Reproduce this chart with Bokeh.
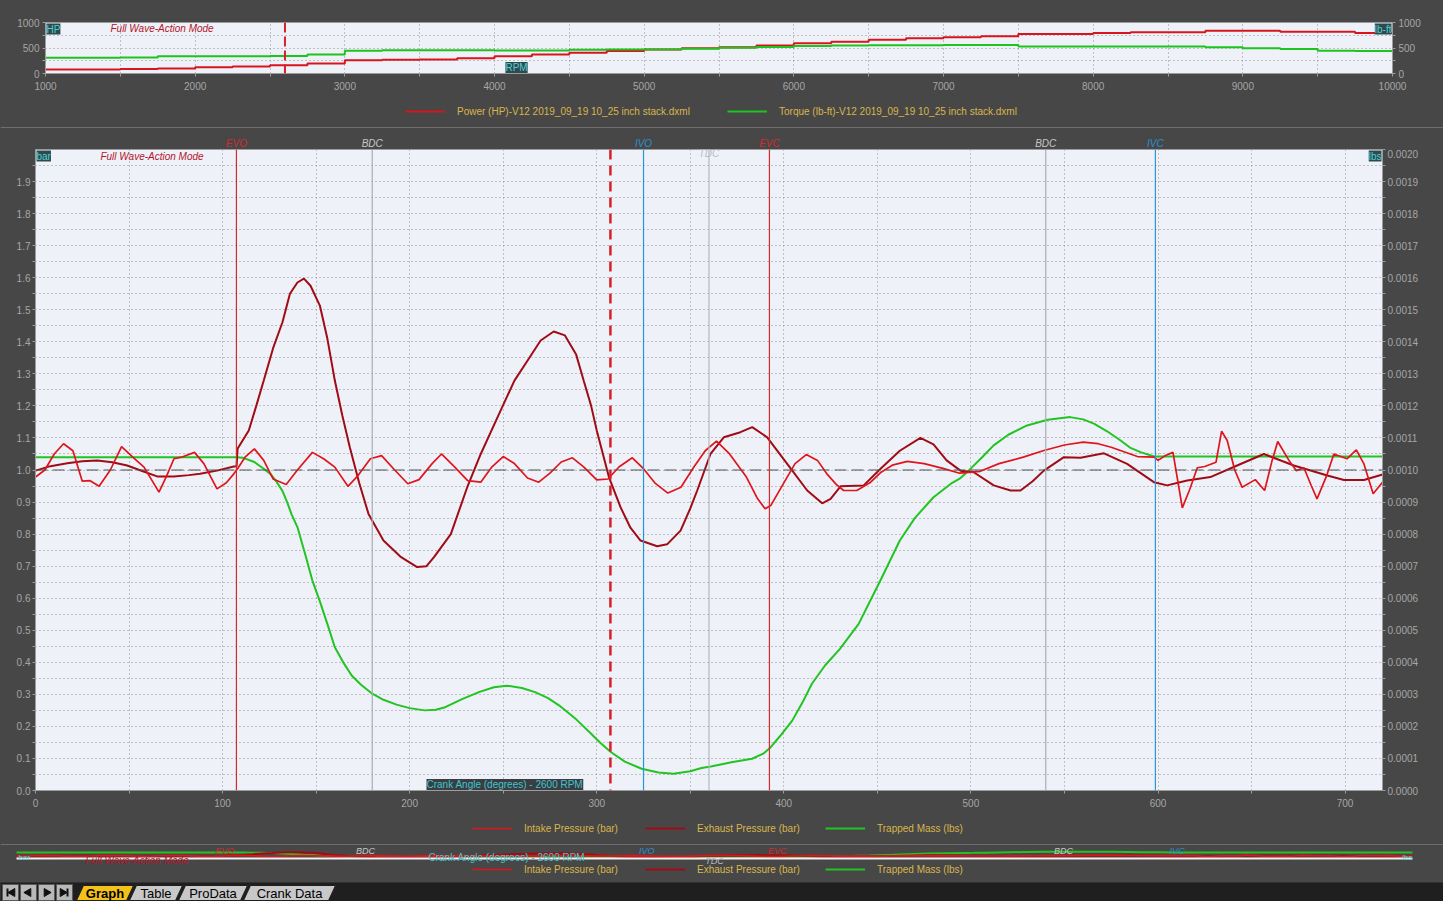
import math
from bokeh.plotting import figure
from bokeh.models import (Range1d, LinearAxis, FixedTicker, PrintfTickFormatter,
                          Span, Label, Legend, LegendItem, BoxAnnotation)
from bokeh.embed import file_html
from bokeh.resources import INLINE

# ------------------------------------------------------------------ data
rpm = list(range(1000, 10001, 250))
power_hp = [80, 80, 90, 100, 125, 135, 160, 195, 260, 270, 275, 300, 340, 375, 407, 440,
            473, 495, 513, 550, 593, 625, 660, 690, 713, 730, 773, 773, 793, 807, 807, 840,
            840, 820, 820, 793, 793]
torque_lbft = [310, 310, 315, 340, 340, 340, 345, 375, 445, 455, 455, 455, 450, 450, 465, 470,
               470, 485, 505, 520, 540, 548, 552, 556, 560, 560, 527, 527, 527, 527, 527, 515,
               493, 480, 445, 440, 440]
cursor_rpm = 2600

crank_intake = [0, 5, 10, 15, 20, 25, 29, 34, 40, 46, 52, 58, 62, 66, 70, 74, 78, 85, 90, 97,
                102, 106, 108, 112, 117, 122, 127, 134, 140, 148, 154, 160, 167, 172, 179, 185,
                192, 199, 205, 212, 217, 224, 231, 238, 244, 250, 256, 263, 269, 275, 281, 287,
                293, 300, 306, 312, 319, 325, 331, 338, 345, 352, 358, 364, 371, 380, 386, 390,
                393, 400, 406, 412, 418, 423, 428, 432, 439, 446, 452, 458, 466, 475, 485, 494,
                505, 515, 528, 539, 550, 560, 568, 575, 589, 598, 600, 604, 608, 613, 617, 621,
                625, 631, 634, 637, 641, 645, 652, 657, 661, 664, 670, 674, 678, 682, 685, 690,
                694, 701, 706, 710, 715, 720]
intake_bar = [0.978, 1.0, 1.05, 1.082, 1.06, 0.965, 0.967, 0.949, 1.0, 1.073, 1.04, 1.009, 0.97,
              0.931, 0.98, 1.035, 1.04, 1.055, 1.02, 0.941, 0.96, 0.988, 1.004, 1.04, 1.066, 1.03,
              0.972, 0.955, 1.0, 1.055, 1.035, 1.009, 0.949, 0.98, 1.035, 1.045, 1.0, 0.957, 0.97,
              1.02, 1.05, 1.01, 0.967, 0.962, 1.01, 1.042, 1.02, 0.975, 0.962, 0.99, 1.025, 1.038,
              1.01, 0.969, 0.972, 1.01, 1.038, 1.004, 0.96, 0.928, 0.946, 1.01, 1.06, 1.09, 1.05,
              0.978, 0.91, 0.879, 0.889, 0.96, 1.02, 1.048, 1.03, 0.988, 0.955, 0.936, 0.936, 0.96,
              0.993, 1.015, 1.027, 1.02, 1.005, 0.99, 0.996, 1.02, 1.04, 1.061, 1.078, 1.087, 1.082,
              1.071, 1.042, 1.04, 1.03, 1.045, 1.055, 0.882, 0.94, 1.007, 1.011, 1.024, 1.121, 1.092,
              1.0, 0.946, 0.97, 0.936, 1.03, 1.089, 1.03, 0.998, 1.007, 0.95, 0.91, 0.98, 1.05,
              1.035, 1.063, 1.02, 0.926, 0.962]

crank_exhaust = [0, 8, 17, 25, 33, 41, 49, 57, 65, 74, 82, 88, 97, 106, 107.5, 108, 114, 118,
                 122, 127, 132, 136, 140, 143.5, 147, 152, 156, 160, 164, 168, 173, 178, 186, 195,
                 204, 209, 213, 222, 231, 238, 247, 256, 264, 270, 277, 283, 289, 293, 297, 300,
                 306.5, 312.7, 318, 323.4, 332.3, 337.6, 344.8, 350, 353.7, 360.8, 367.9, 376.8,
                 383.1, 391.1, 401.8, 412.5, 420.5, 425, 430.3, 442.7, 451.7, 462, 473, 480, 487,
                 494.4, 501.5, 512.2, 521.2, 526.5, 533, 539, 549.7, 558.6, 571.1, 583.5, 597.8,
                 604.9, 615.6, 628, 642.3, 656.6, 672.6, 690.5, 699.4, 710.1, 720]
exhaust_bar = [0.998, 1.012, 1.021, 1.027, 1.03, 1.024, 1.014, 0.997, 0.98, 0.98, 0.984, 0.988,
               0.998, 1.011, 1.012, 1.066, 1.123, 1.2, 1.279, 1.38, 1.461, 1.55, 1.585, 1.597,
               1.575, 1.513, 1.41, 1.279, 1.17, 1.071, 0.96, 0.863, 0.78, 0.73, 0.697, 0.7, 0.728,
               0.8, 0.95, 1.05, 1.165, 1.279, 1.35, 1.404, 1.432, 1.42, 1.36, 1.279, 1.2, 1.123,
               0.978, 0.884, 0.82, 0.78, 0.762, 0.768, 0.811, 0.88, 0.936, 1.05, 1.102, 1.118,
               1.134, 1.102, 1.019, 0.936, 0.896, 0.91, 0.949, 0.952, 1.004, 1.06, 1.1, 1.08, 1.03,
               0.998, 0.993, 0.952, 0.936, 0.936, 0.965, 0.998, 1.04, 1.038, 1.052, 1.019, 0.962,
               0.952, 0.967, 0.978, 1.014, 1.05, 1.014, 0.983, 0.969, 0.969, 0.986]

crank_mass = [0, 100, 107, 111, 117, 122, 126, 129, 132, 134.5, 137, 140, 144, 148, 152, 156, 160,
              165, 169, 174, 180, 186, 193, 200, 208, 214, 219, 228, 237, 245, 252, 260, 267, 274,
              280, 289, 297, 302, 307.5, 315, 324, 333, 341, 350, 356, 361, 372, 383, 389, 393,
              398, 404.5, 410, 415, 422, 430, 440, 452, 462, 470, 480, 490, 494, 500, 506, 512,
              520, 530, 541, 553, 560, 566, 573, 580, 585, 591, 598, 720]
trapped_mass_lbs = [0.00104, 0.00104, 0.00104, 0.001038, 0.001025, 0.001004, 0.000985, 0.000962,
                    0.000935, 0.0009, 0.00086, 0.000822, 0.00074, 0.000655, 0.00059, 0.00052,
                    0.000447, 0.000395, 0.000359, 0.00033, 0.000302, 0.000283, 0.000268, 0.000257,
                    0.00025, 0.000252, 0.00026, 0.000285, 0.000307, 0.000322, 0.000327, 0.00032,
                    0.000307, 0.000288, 0.000265, 0.000222, 0.000177, 0.000148, 0.00012, 0.00009,
                    0.000068, 0.000056, 0.000052, 0.00006, 0.00007, 0.000075, 0.000088, 0.000099,
                    0.000115, 0.000135, 0.00017, 0.000218, 0.000275, 0.000333, 0.00039, 0.000442,
                    0.00052, 0.00066, 0.00078, 0.00085, 0.000915, 0.00096, 0.000973, 0.001005,
                    0.00104, 0.001076, 0.00111, 0.001139, 0.001157, 0.001165, 0.001158, 0.001144,
                    0.00112, 0.001092, 0.00107, 0.001055, 0.001042, 0.001042]

event_names = ["EVO", "BDC", "IVO", "TDC", "EVC", "BDC", "IVC"]
event_angles = [107.4, 180, 325, 360, 392.3, 540, 598.6]
cursor_angle = 307.3

tab_names = ["Graph", "Table", "ProData", "Crank Data"]

# ------------------------------------------------------------------ style
W = 1443
FONT = "Liberation Sans"
BG = "#474747"
PLOT_BG = "#eef2f8"
TICK_TXT = "#a6a6a6"
AX_LINE = "#9c9c9c"
GRID = "#8e8e8e"
SEP = "#6e6e6e"
LEG_TXT = "#d9b64c"
RED = "#e0141c"
DARK_RED = "#a00c16"
GREEN = "#22c322"
BOX_BG = "#2e4a50"
BOX_TXT = "#4fd0d0"
MODE_TXT = "#b4142c"
EVENT_COL = {"EVO": "#d42a2a", "EVC": "#d42a2a", "BDC": "#a8aeb6", "TDC": "#b4b8c0",
             "IVO": "#2a94d8", "IVC": "#2a94d8"}
EVENT_TXT = {"EVO": "#d42a2a", "EVC": "#d42a2a", "BDC": "#c8c8c8", "TDC": "#b8bcc4",
             "IVO": "#2a8fd0", "IVC": "#2a8fd0"}
COMMON = dict(output_backend="svg", toolbar_location=None, title=None)


def style_axis(ax, standoff=3):
    ax.major_label_text_color = TICK_TXT
    ax.major_label_text_font = FONT
    ax.major_label_text_font_size = "10px"
    ax.axis_line_color = AX_LINE
    ax.major_tick_line_color = AX_LINE
    ax.minor_tick_line_color = AX_LINE
    ax.major_tick_in = 0
    ax.major_tick_out = 3
    ax.minor_tick_in = 0
    ax.minor_tick_out = 3
    ax.major_label_standoff = standoff


def band_fig(h, xr, yr, left=0, right=0, bg=BG):
    p = figure(width=W, height=h, x_range=xr, y_range=yr, x_axis_type=None, y_axis_type=None,
               min_border_left=left, min_border_right=right, min_border_top=0,
               min_border_bottom=0, background_fill_color=bg, border_fill_color=bg,
               outline_line_color=None, **COMMON)
    p.grid.visible = False
    return p


def add_legend(p, labels, renderers, xs, y):
    for lab, r, x in zip(labels, renderers, xs):
        p.add_layout(Legend(items=[LegendItem(label=lab, renderers=[r])], location=(x, y),
                            orientation="horizontal", padding=0, margin=0, spacing=0,
                            glyph_width=40, glyph_height=12, label_height=12, label_standoff=12,
                            label_text_color=LEG_TXT, label_text_font=FONT,
                            label_text_font_size="10px", border_line_alpha=0,
                            background_fill_alpha=0))


def text(p, x, y, s, color, size="10px", align="left", baseline="middle", style="normal",
         xo=0, yo=0, bg=None, y_range_name="default"):
    p.add_layout(Label(x=x, y=y, text=s, text_align=align, text_baseline=baseline,
                       x_offset=xo, y_offset=yo, text_color=color, text_font=FONT,
                       text_font_size=size, text_font_style=style, background_fill_color=bg,
                       y_range_name=y_range_name))


# ------------------------------------------------------------------ top panel (RPM)
top = figure(width=W, height=95, x_range=Range1d(1000, 10000), y_range=Range1d(0, 1000),
             min_border_left=45, min_border_right=51, min_border_top=22, min_border_bottom=22,
             background_fill_color=PLOT_BG, border_fill_color=BG, outline_line_color=None,
             **COMMON)
top.extra_y_ranges = {"tq": Range1d(0, 1000)}
top.xaxis.ticker = FixedTicker(ticks=list(range(1000, 10001, 1000)),
                               minor_ticks=list(range(1500, 10000, 1000)))
top.yaxis.ticker = FixedTicker(ticks=[0, 500, 1000], minor_ticks=[250, 750])
top.add_layout(LinearAxis(y_range_name="tq",
                          ticker=FixedTicker(ticks=[0, 500, 1000], minor_ticks=[250, 750])), "right")
for ax in top.axis:
    style_axis(ax)
top.xaxis.major_label_standoff = 5
top.xgrid.ticker = FixedTicker(ticks=list(range(1500, 10000, 500)))
top.ygrid.ticker = FixedTicker(ticks=[250, 500, 750])
top.grid.grid_line_color = GRID
top.grid.grid_line_dash = "1 3"

top.step(rpm, power_hp, mode="after", line_color="#d8141c", line_width=2)
top.step(rpm, torque_lbft, mode="after", line_color="#1ec41e", line_width=2, y_range_name="tq")
top.add_layout(Span(location=cursor_rpm, dimension="height", line_color="#d8202a",
                    line_width=2, line_dash="10 4"))
text(top, 1434, 880, "Full Wave-Action Mode", MODE_TXT, style="italic")
text(top, 1000, 1000, "HP", BOX_TXT, baseline="top", xo=1, yo=-1, bg=BOX_BG)
text(top, 10000, 1000, "lb-ft", BOX_TXT, align="right", baseline="top", xo=-1, yo=-1, bg=BOX_BG)
text(top, 4073, 0, "RPM", BOX_TXT, yo=6, bg=BOX_BG)

# legend row of top panel (series drawn on a range that keeps them out of view; only the
# legend swatches show)
top_leg = band_fig(33, Range1d(1000, 1000 + W * 9000 / 1347), Range1d(0, 33))
top_leg.extra_y_ranges = {"off": Range1d(5000, 6000)}
lp = top_leg.step(rpm, power_hp, mode="after", line_color="#d8141c", line_width=2,
                  y_range_name="off")
lt = top_leg.step(rpm, torque_lbft, mode="after", line_color="#1ec41e", line_width=2,
                  y_range_name="off")
add_legend(top_leg, ["Power (HP)-V12 2019_09_19 10_25 inch stack.dxml",
                     "Torque (lb-ft)-V12 2019_09_19 10_25 inch stack.dxml"], [lp, lt], [405, 727], 11)
top_leg.add_layout(Span(location=1, dimension="width", line_color=SEP, line_width=1))

# ------------------------------------------------------------------ event label row
lab_row = band_fig(21, Range1d(0, 720), Range1d(0, 21), left=35, right=61)
for name, ang in zip(event_names, event_angles):
    if name != "TDC":
        text(lab_row, ang, 6, name, EVENT_TXT[name], align="center", style="italic")

# ------------------------------------------------------------------ main panel (crank angle)
main = figure(width=W, height=663, x_range=Range1d(0, 720), y_range=Range1d(0, 2.0),
              min_border_left=35, min_border_right=61, min_border_top=0, min_border_bottom=22,
              background_fill_color=PLOT_BG, border_fill_color=BG, outline_line_color=None,
              **COMMON)
main.extra_y_ranges = {"mass": Range1d(0, 0.002)}
main.xaxis.ticker = FixedTicker(ticks=list(range(0, 701, 100)), minor_ticks=list(range(50, 720, 100)))
main.yaxis.ticker = FixedTicker(ticks=[i / 10 for i in range(0, 20)],
                                minor_ticks=[i / 20 for i in range(1, 40, 2)])
main.yaxis.formatter = PrintfTickFormatter(format="%.1f")
main.add_layout(LinearAxis(y_range_name="mass",
                           ticker=FixedTicker(ticks=[i / 10000 for i in range(0, 21)],
                                              minor_ticks=[i / 20000 for i in range(1, 40, 2)]),
                           formatter=PrintfTickFormatter(format="%.4f")), "right")
for ax in main.axis:
    style_axis(ax, standoff=2)
main.xaxis.major_label_standoff = 5
main.xgrid.ticker = FixedTicker(ticks=list(range(50, 720, 50)))
main.ygrid.ticker = FixedTicker(ticks=[i / 20 for i in range(1, 40)])
main.grid.grid_line_color = GRID
main.grid.grid_line_dash = "1 3"

main.add_layout(Span(location=1.0, dimension="width", line_color="#505050", line_width=1,
                     line_dash="12 5"))
for name, ang in zip(event_names, event_angles):
    main.add_layout(Span(location=ang, dimension="height", line_color=EVENT_COL[name], line_width=1.2))
text(main, event_angles[event_names.index("TDC")], 2.0, "TDC", EVENT_TXT["TDC"], align="center",
     style="italic", yo=-4)

r_mass = main.line(crank_mass, trapped_mass_lbs, line_color=GREEN, line_width=2, y_range_name="mass")
r_exh = main.line(crank_exhaust, exhaust_bar, line_color=DARK_RED, line_width=2)
r_int = main.line(crank_intake, intake_bar, line_color=RED, line_width=1.7)

main.add_layout(Span(location=cursor_angle, dimension="height", line_color="#d8202a",
                     line_width=2.5, line_dash="10 6"))
text(main, 34.7, 1.978, "Full Wave-Action Mode", MODE_TXT, style="italic")
text(main, 0, 2.0, "bar", BOX_TXT, baseline="top", xo=1, yo=-1, bg=BOX_BG)
text(main, 720, 2.0, "lbs", BOX_TXT, align="right", baseline="top", xo=-1, yo=-1, bg=BOX_BG)
text(main, 209, 0, "Crank Angle (degrees) - 2600 RPM", "#40c4cc", yo=6, bg="#3a3e42")

# legend row of main panel (series kept out of view; only the legend swatches show)
main_leg = band_fig(31, Range1d(0, W), Range1d(0, 31))
main_leg.extra_y_ranges = {"off": Range1d(5000, 6000)}
li = main_leg.line(crank_intake, intake_bar, line_color=RED, line_width=1.7, y_range_name="off")
le = main_leg.line(crank_exhaust, exhaust_bar, line_color=DARK_RED, line_width=2, y_range_name="off")
lm = main_leg.line(crank_mass, trapped_mass_lbs, line_color=GREEN, line_width=2, y_range_name="off")
add_legend(main_leg, ["Intake Pressure (bar)", "Exhaust Pressure (bar)", "Trapped Mass (lbs)"],
           [li, le, lm], [472, 645, 825], 9)

# ------------------------------------------------------------------ compressed strip
PX = 1.9389      # px per degree in the strip
PU = 1.1 / 7     # bar per px in the strip
MU = 0.0012 / 7  # lbs per px in the strip
strip = band_fig(39, Range1d(-16 / PX, (W - 16) / PX), Range1d(0.6 - 24 * PU, 1.7 + 8 * PU))
strip.extra_y_ranges = {"mass": Range1d(-24 * MU, 0.0012 + 8 * MU)}
strip.add_layout(Span(location=1.7 + 7 * PU, dimension="width", line_color=SEP, line_width=1))
strip.add_layout(BoxAnnotation(left=0, right=720, bottom=0.6 - PU, top=0.6 + PU,
                               fill_color="#f2f2f2", fill_alpha=1.0, line_alpha=0))
s_mass = strip.line(crank_mass, trapped_mass_lbs, line_color=GREEN, line_width=2, y_range_name="mass")
s_exh = strip.line(crank_exhaust, exhaust_bar, line_color=DARK_RED, line_width=2)
s_int = strip.line(crank_intake, intake_bar, line_color=RED, line_width=1.7)
for name, ang in zip(event_names, event_angles):
    yy = 0.6 - 2 * PU if name == "TDC" else 1.7 + PU
    text(strip, ang, yy, name, EVENT_TXT[name], size="9px", align="center", style="italic")
text(strip, (85 - 16) / PX, 0.6 - 2 * PU, "Full Wave-Action Mode", MODE_TXT, style="italic")
text(strip, (428 - 16) / PX, 0.6 + PU, "Crank Angle (degrees) - 2600 RPM", "#40c4cc")
text(strip, 0, 0.6 + PU, "bar", BOX_TXT, size="8px", xo=2)
text(strip, 720, 0.6 + PU, "lbs", BOX_TXT, size="8px", align="right")
add_legend(strip, ["Intake Pressure (bar)", "Exhaust Pressure (bar)", "Trapped Mass (lbs)"],
           [s_int, s_exh, s_mass], [472, 645, 825], 7)

# ------------------------------------------------------------------ tab bar
tab_left = [76, 129, 178, 243]
tab_right = [126, 175, 240, 328]
tab_fill = ["#f2c21a", "#c8c8c8", "#c8c8c8", "#c8c8c8"]
nav_left = [2, 20, 38, 56]

tabs = band_fig(19, Range1d(0, W), Range1d(0, 19), bg="#1f1f1f")
tabs.quad(left=nav_left, right=[v + 16 for v in nav_left], bottom=1, top=17,
          fill_color="#b8b8b8", line_color="#5a5a5a")
tabs.scatter([nav_left[0] + 10, nav_left[1] + 8], [9, 9], marker="triangle", size=8,
             angle=math.pi / 2, fill_color="#111111", line_color="#111111")
tabs.scatter([nav_left[2] + 8, nav_left[3] + 6], [9, 9], marker="triangle", size=8,
             angle=-math.pi / 2, fill_color="#111111", line_color="#111111")
tabs.segment(x0=[nav_left[0] + 5, nav_left[3] + 11], y0=[5, 5],
             x1=[nav_left[0] + 5, nav_left[3] + 11], y1=[13, 13], line_color="#111111", line_width=2)
tabs.patches(xs=[[l, l + 7, r + 7, r] for l, r in zip(tab_left, tab_right)],
             ys=[[1, 16, 16, 1] for _ in tab_names], fill_color=tab_fill,
             line_color="#1f1f1f", line_width=1)
for name, l, r in zip(tab_names, tab_left, tab_right):
    text(tabs, (l + r) / 2 + 3.5, 8.5, name, "#000000", size="13px", align="center",
         style="bold" if name == "Graph" else "normal")

roots = [top, top_leg, lab_row, main, main_leg, strip, tabs]
html = file_html(roots, INLINE)
cut = html.rfind("</head>")
html = html[:cut] + "<style>body{background:#474747;}</style>" + html[cut:]
open("out.html", "w").write(html)
